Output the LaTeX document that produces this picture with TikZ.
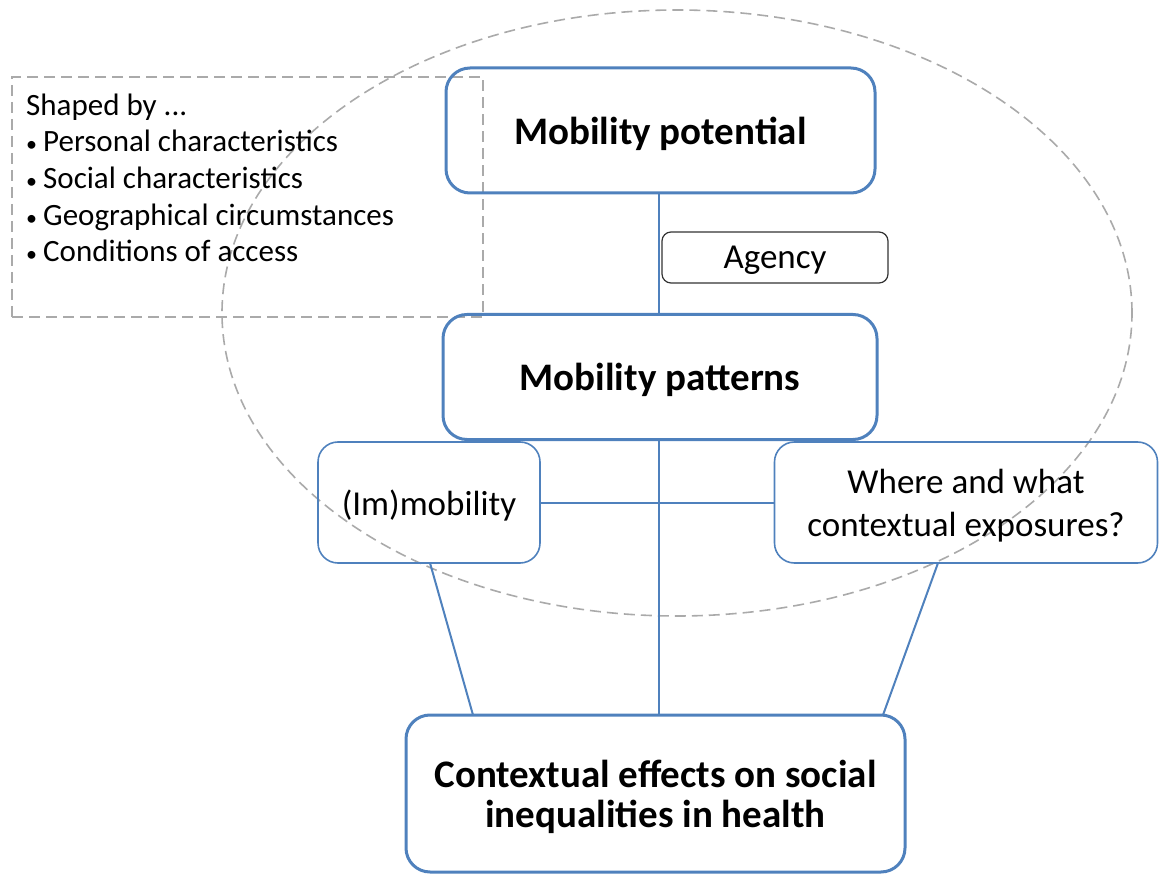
\documentclass[tikz,border=0pt]{standalone}
\usepackage{fontspec}
\setmainfont{Carlito}
\usetikzlibrary{shapes.geometric}
\definecolor{boxblue}{HTML}{4F81BD}
\definecolor{dashgray}{HTML}{AAAAAA}
\newcommand{\itemdot}{\makebox[17pt][l]{\fontsize{22}{22}\selectfont •}}
\begin{document}
\begin{tikzpicture}[x=1pt,y=-1pt,
  mainbox/.style={draw=boxblue, line width=3pt, rounded corners=24pt, align=center,
    font=\fontsize{39}{40}\selectfont\bfseries, inner sep=0pt, text depth=0pt},
  sidebox/.style={draw=boxblue, line width=1.6pt, rounded corners=20pt, align=center,
    font=\fontsize{35}{43}\selectfont, inner sep=0pt, text depth=0pt},
  agentbox/.style={draw=black!80, line width=1.2pt, rounded corners=9pt,
    font=\fontsize{35}{40}\selectfont, inner sep=0pt, text depth=0pt},
  link/.style={draw=boxblue, line width=2pt},
  dashline/.style={draw=dashgray, line width=1.6pt, dash pattern=on 11pt off 6pt}]
\useasboundingbox (0,0) rectangle (1159,874);

% dashed outline of the mobility domain
\node[dashline, ellipse, minimum width=910pt, minimum height=606pt, inner sep=0pt] (dom) at (677,313) {};

% dashed frame holding the list of factors (base anchor = last line)
\node[dashline, rectangle, minimum width=471pt, minimum height=240pt, inner sep=0pt] (frame) at (247.5,197) {};
\node[anchor=base west, align=left, inner sep=0pt,
      font=\fontsize{31}{36.7}\selectfont] (list) at (26,262)
  {Shaped by ...\\
   \itemdot Personal characteristics\\
   \itemdot Social characteristics\\
   \itemdot Geographical circumstances\\
   \itemdot Conditions of access};

% main boxes
\node[mainbox, minimum width=429pt, minimum height=125pt] (pot) at (660.5,130.5) {Mobility potential};
\node[mainbox, minimum width=434pt, minimum height=125pt] (pat) at (660,377) {Mobility patterns};
\node[mainbox, minimum width=499pt, minimum height=157pt] (eff) at (655.5,793.5)
  {Contextual effects on social\\inequalities in health};

% secondary boxes
\node[agentbox, minimum width=226pt, minimum height=51pt] (agency) at (775,257.5) {Agency};
\node[sidebox, minimum width=222pt, minimum height=121pt] (imm) at (429,502.5) {(Im)mobility};
\node[sidebox, minimum width=383pt, minimum height=121pt] (where) at (966,502.5)
  {Where and what\\contextual exposures?};

% connectors
\coordinate (immfoot) at (430,563);
\coordinate (wherefoot) at (938,563);
\coordinate (effl) at (473,715);
\coordinate (effr) at (883,715);
\draw[link] (pot.south -| 659,0) -- (pat.north -| 659,0);
\draw[link] (pat.south -| 659,0) -- (eff.north -| 659,0);
\draw[link] (imm.east) -- (where.west);
\draw[link] (immfoot) -- (effl);
\draw[link] (wherefoot) -- (effr);
\end{tikzpicture}
\end{document}
